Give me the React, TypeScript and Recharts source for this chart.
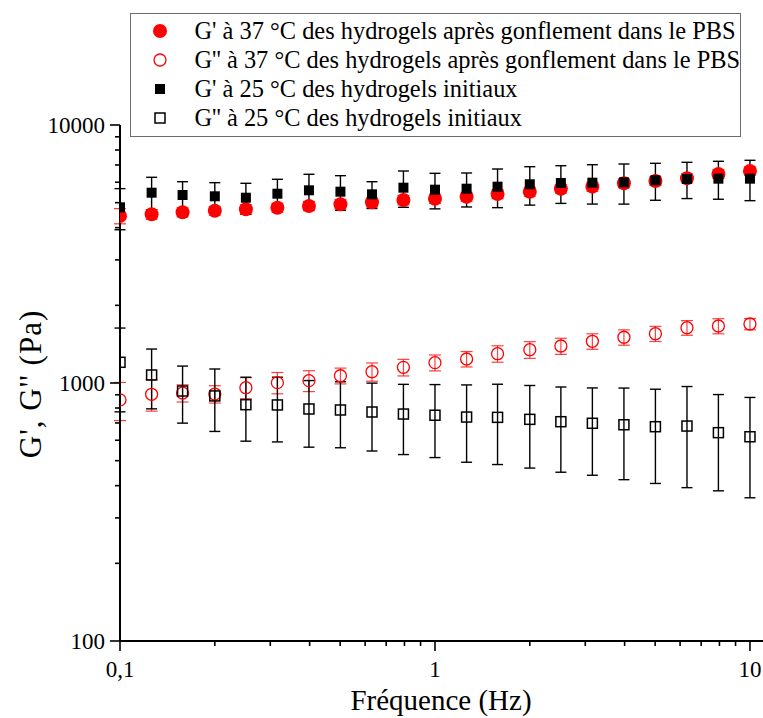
import React from 'react';
import { ScatterChart, Scatter, XAxis, YAxis, ErrorBar, Legend } from 'recharts';

const FONT = "'Liberation Serif', serif";

// Frequencies (Hz)
const frequencies = [0.1, 0.126, 0.158, 0.2, 0.251, 0.316, 0.398, 0.501, 0.631, 0.794, 1, 1.26, 1.58, 2, 2.51, 3.16, 3.98, 5.01, 6.31, 7.94, 10];

// G' at 37 °C after swelling in PBS
const gPrime37 = [4440, 4506, 4588, 4654, 4713, 4781, 4853, 4928, 5017, 5121, 5180, 5274, 5403, 5515, 5664, 5767, 5943, 6066, 6214, 6457, 6632];
const gPrime37Err = [300, 190, 180, 180, 190, 190, 200, 200, 200, 210, 210, 210, 220, 220, 220, 230, 230, 240, 240, 250, 250];

// G'' at 37 °C after swelling in PBS
const gSecond37 = [860, 904, 914, 906, 959, 1003, 1021, 1067, 1106, 1150, 1199, 1239, 1299, 1346, 1391, 1451, 1504, 1553, 1638, 1663, 1693];
const gSecond37Err = [145, 126, 70, 70, 90, 95, 95, 75, 90, 85, 85, 85, 95, 100, 100, 100, 103, 105, 107, 112, 85];

// G' at 25 °C initial hydrogels
const gPrime25 = [4797, 5465, 5354, 5292, 5226, 5416, 5583, 5515, 5387, 5715, 5614, 5664, 5767, 5892, 5960, 5977, 5998, 6106, 6177, 6194, 6194];
const gPrime25Err = [870, 806, 674, 685, 717, 744, 858, 847, 641, 917, 883, 852, 985, 1000, 993, 1039, 1062, 998, 991, 1039, 1104];

// G'' at 25 °C initial hydrogels
const gSecond25 = [1203, 1074, 931, 891, 824, 822, 793, 786, 772, 758, 750, 738, 736, 723, 708, 698, 689, 677, 681, 642, 619];
const gSecond25Err = [430, 280, 232, 242, 229, 231, 229, 225, 227, 230, 236, 245, 253, 255, 257, 259, 267, 269, 288, 260, 260];

// Axis ticks
const xTickValues = [0.1, 0.2, 0.3, 0.4, 0.5, 0.6, 0.7, 0.8, 0.9, 1, 2, 3, 4, 5, 6, 7, 8, 9, 10];
const xMajorLabels: Record<string, string> = { '0.1': '0,1', '1': '1', '10': '10' };
const yTickValues = [100, 200, 300, 400, 500, 600, 700, 800, 900, 1000, 2000, 3000, 4000, 5000, 6000, 7000, 8000, 9000, 10000];
const yMajorLabels: Record<string, string> = { '100': '100', '1000': '1000', '10000': '10000' };

const xTitle = 'Fréquence (Hz)';
const yTitle = "G', G'' (Pa)";

const legendLabels = [
  "G' à 37 °C des hydrogels après gonflement dans le PBS",
  "G'' à 37 °C des hydrogels après gonflement dans le PBS",
  "G' à 25 °C des hydrogels initiaux",
  "G'' à 25 °C des hydrogels initiaux",
];

const build = (vals: number[], errs: number[]) =>
  frequencies.map((f, i) => ({ x: f, y: vals[i], err: errs[i] }));

const dataGP37 = build(gPrime37, gPrime37Err);
const dataGS37 = build(gSecond37, gSecond37Err);
const dataGP25 = build(gPrime25, gPrime25Err);
const dataGS25 = build(gSecond25, gSecond25Err);

const RED = '#ff0000';

const FilledCircle = (p: any) => <circle cx={p.cx} cy={p.cy} r={7} fill={RED} />;
const OpenCircle = (p: any) => <circle cx={p.cx} cy={p.cy} r={6} fill="none" stroke={RED} strokeWidth={1.3} />;
const FilledSquare = (p: any) => <rect x={p.cx - 5} y={p.cy - 5} width={10} height={10} fill="#000" />;
const OpenSquare = (p: any) => <rect x={p.cx - 5} y={p.cy - 5} width={10} height={10} fill="none" stroke="#000" strokeWidth={1.5} />;

const markers = [FilledCircle, OpenCircle, FilledSquare, OpenSquare];

const textStyle = { fontFamily: FONT };

const XTick = (props: any) => {
  const { x, y, payload } = props;
  const label = xMajorLabels[String(payload.value)];
  const major = label !== undefined;
  return (
    <g>
      <line x1={x} x2={x} y1={y} y2={y + (major ? 10 : 5)} stroke="#000" strokeWidth={1.6} />
      {major && (
        <text x={x} y={y + 36} textAnchor="middle" fontSize={23} style={textStyle} fill="#000">
          {label}
        </text>
      )}
    </g>
  );
};

const YTick = (props: any) => {
  const { x, y, payload } = props;
  const label = yMajorLabels[String(payload.value)];
  const major = label !== undefined;
  return (
    <g>
      <line x1={x - (major ? 10 : 5)} x2={x} y1={y} y2={y} stroke="#000" strokeWidth={1.6} />
      {major && (
        <text x={x - 15} y={y + 7.5} textAnchor="end" fontSize={23} style={textStyle} fill="#000">
          {label}
        </text>
      )}
    </g>
  );
};

const LegendBox = () => (
  <div
    style={{
      position: 'relative',
      width: 611,
      height: 124,
      boxSizing: 'border-box',
      border: '1.5px solid #6b6b6b',
      background: '#fff',
      fontFamily: FONT,
      fontSize: 24.4,
      color: '#000',
    }}
  >
    {legendLabels.map((label, i) => {
      const M = markers[i];
      return (
        <div key={i} style={{ position: 'absolute', left: 0, top: 2 + i * 29, height: 29, width: 605, lineHeight: '29px', whiteSpace: 'nowrap' }}>
          <svg width={20} height={20} style={{ position: 'absolute', left: 18.5, top: 5 }}>
            <M cx={10} cy={10} />
          </svg>
          <span style={{ position: 'absolute', left: 63.5, top: 0, fontFamily: FONT }}>{label}</span>
        </div>
      );
    })}
  </div>
);

export default function App() {
  return (
    <div style={{ position: 'absolute', left: 0, top: 0, width: 763, height: 718, background: '#fff', fontFamily: FONT }}>
      <ScatterChart width={763} height={718} margin={{ top: 125, right: 0, bottom: 0, left: 0 }} style={{ fontFamily: FONT }}>
        <XAxis
          type="number"
          dataKey="x"
          scale="log"
          domain={[0.1, 11]}
          allowDataOverflow
          ticks={xTickValues}
          interval={0}
          height={77}
          tickSize={0}
          tickMargin={0}
          tickLine={false}
          tick={<XTick />}
          axisLine={{ stroke: '#000', strokeWidth: 2 }}
          label={{
            content: () => (
              <text x={441} y={710} textAnchor="middle" fontSize={29} style={textStyle} fill="#000">
                {xTitle}
              </text>
            ),
          }}
        />
        <YAxis
          type="number"
          dataKey="y"
          scale="log"
          domain={[100, 10000]}
          allowDataOverflow
          ticks={yTickValues}
          interval={0}
          width={120}
          tickSize={0}
          tickMargin={0}
          tickLine={false}
          tick={<YTick />}
          axisLine={{ stroke: '#000', strokeWidth: 2 }}
          label={{
            content: () => (
              <text transform="translate(41,384) rotate(-90)" textAnchor="middle" fontSize={31} letterSpacing={1} style={textStyle} fill="#000">
                {yTitle}
              </text>
            ),
          }}
        />
        <Legend
          layout="vertical"
          align="center"
          verticalAlign="middle"
          wrapperStyle={{ left: 130, top: 13, width: 611, height: 124 }}
          content={() => <LegendBox />}
        />
        <Scatter name={legendLabels[0]} data={dataGP37} shape={FilledCircle} isAnimationActive={false}>
          <ErrorBar dataKey="err" direction="y" width={6} stroke={RED} strokeOpacity={0.8} strokeWidth={1.2} isAnimationActive={false} />
        </Scatter>
        <Scatter name={legendLabels[1]} data={dataGS37} shape={OpenCircle} isAnimationActive={false}>
          <ErrorBar dataKey="err" direction="y" width={6} stroke={RED} strokeOpacity={0.75} strokeWidth={1.2} isAnimationActive={false} />
        </Scatter>
        <Scatter name={legendLabels[2]} data={dataGP25} shape={FilledSquare} isAnimationActive={false}>
          <ErrorBar dataKey="err" direction="y" width={5.5} stroke="#000" strokeWidth={1.4} isAnimationActive={false} />
        </Scatter>
        <Scatter name={legendLabels[3]} data={dataGS25} shape={OpenSquare} isAnimationActive={false}>
          <ErrorBar dataKey="err" direction="y" width={5.5} stroke="#000" strokeWidth={1.4} isAnimationActive={false} />
        </Scatter>
      </ScatterChart>
    </div>
  );
}
